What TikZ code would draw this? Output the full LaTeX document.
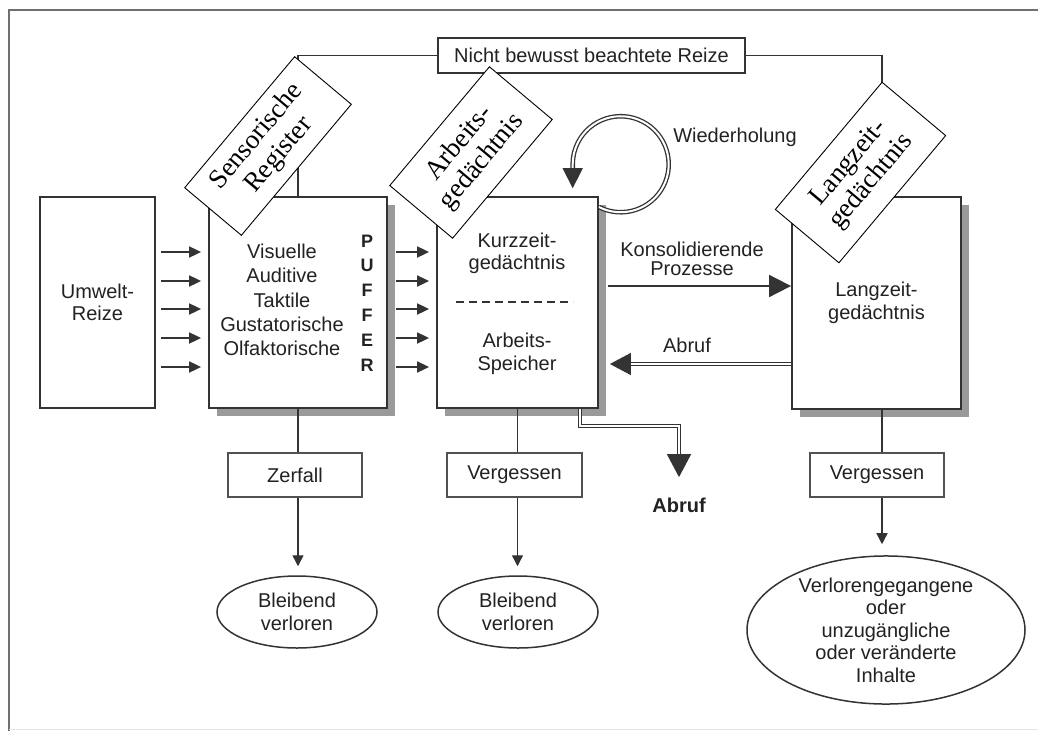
\documentclass[tikz,border=0pt]{standalone}
\usepackage{fontspec}
\setmainfont{Liberation Sans}
\newfontfamily\schildschrift{Liberation Serif}
\usetikzlibrary{arrows.meta,shadows,shapes.geometric}

\definecolor{linie}{HTML}{333333}
\definecolor{schrift}{HTML}{222222}
\definecolor{grauschatten}{HTML}{9A9A9A}
\definecolor{rahmen}{HTML}{707070}

\newcommand\grundschrift{\fontsize{20}{22.5}\selectfont}

\tikzset{
	speicher/.style={draw=linie, line width=1.8pt, fill=white, inner sep=0pt, align=center, text=schrift, font=\grundschrift},
	schattig/.style={drop shadow={shadow xshift=8pt, shadow yshift=-8pt, fill=grauschatten, opacity=1}},
	kasten/.style={draw=linie!85, line width=1.1pt, fill=white, inner sep=0pt, minimum width=134pt, minimum height=44pt, text=schrift, font=\grundschrift},
	oval/.style={ellipse, draw=linie, line width=1.5pt, inner sep=0pt, align=center, text=schrift, font=\grundschrift},
	schild/.style={draw=black, line width=0.9pt, fill=white, rotate=50, inner sep=0pt, align=center, font=\schildschrift\fontsize{27}{29}\selectfont},
	beschriftung/.style={align=center, text=schrift, font=\grundschrift},
	duenn/.style={draw=linie, line width=1.4pt},
	kleinpfeil/.style={duenn, -{Triangle[length=11pt,width=11pt]}},
	pfeil/.style={draw=linie, line width=1.8pt, -{Triangle[length=12pt,width=11pt]}},
	doppel/.style={draw=linie, double=white, double distance=2pt, line width=1.3pt},
}

\begin{document}
\begin{tikzpicture}[x=1pt, y=-1pt]
	\useasboundingbox (0,0) rectangle (1038,731);
	
	% Rahmen
	\draw[rahmen, line width=2.5pt] (9,731) -- (9,10) -- (1038,10);
	\draw[gray!20, line width=1pt] (9,729.5) -- (1038,729.5);
	
	% Speicher
	\node[speicher, minimum width=115pt, minimum height=211pt] (umwelt) at (97.5,302.5) {Umwelt-\\Reize};
	\node[speicher, schattig, minimum width=178pt, minimum height=211pt] (sensor) at (298,302.5) {};
	\node[speicher, schattig, minimum width=161pt, minimum height=211pt] (kurz) at (517.5,302.5) {};
	\node[speicher, schattig, minimum width=169pt, minimum height=212pt] (lang) at (876.5,303) {Langzeit-\\gedächtnis};
	\coordinate (langachse) at ([xshift=5.5pt]lang.south);
	
	% Inhalte der Speicher
	\node[beschriftung, font=\fontsize{20}{24.25}\selectfont] (sinne) at (282,300) {Visuelle\\Auditive\\Taktile\\Gustatorische\\Olfaktorische};
	\node[beschriftung, font=\bfseries\fontsize{18}{24.8}\selectfont] (puffer) at (367,303) {P\\U\\F\\F\\E\\R};
	\node[beschriftung] (kurzzeit) at (517,253.5) {Kurzzeit-\\gedächtnis};
	\node[beschriftung] (arbeitsspeicher) at (517,354) {Arbeits-\\Speicher};
	\draw[linie, line width=1.5pt, dash pattern=on 8pt off 5pt] (456,302) -- (573,302);
	
	% nicht bewusst beachtete Reize
	\node[speicher, line width=1.5pt, minimum width=307pt, minimum height=35pt] (nicht) at (591.5,55.5) {Nicht bewusst beachtete Reize};
	\draw[duenn] (nicht.west) -| (sensor.north);
	\draw[duenn] (nicht.east) -| ([xshift=5.5pt]lang.north);
	
	% Schilder
	\node[schild, minimum width=171pt, minimum height=74pt] (sensorschild) at (268,146) {Sensorische\\Register};
	\node[schild, minimum width=155pt, minimum height=82pt] (arbeitsschild) at (471,152.5) {Arbeits-\\gedächtnis};
	\node[schild, minimum width=166pt, minimum height=83pt] (langschild) at (860.5,172.5) {Langzeit-\\gedächtnis};
	
	% Reize
	\foreach \y in {252,281,309,338,367} {
		\draw[pfeil, shorten <=5pt, shorten >=7pt] (umwelt.east |- 0,\y) -- (sensor.west |- 0,\y);
		\draw[pfeil, shorten <=8pt, shorten >=7pt] (sensor.east |- 0,\y) -- (kurz.west |- 0,\y);
	}
	
	% Konsolidierung und Abruf
	\node[beschriftung, font=\fontsize{20}{19.5}\selectfont] (konsol) at (692,259) {Konsolidierende\\Prozesse};
	\draw[draw=linie, line width=1.8pt, -{Triangle[length=22pt,width=22pt]}, shorten <=9pt] (kurz.east |- 0,286) -- (lang.west |- 0,286);
	\node[beschriftung] (abrufzurueck) at (687,345) {Abruf};
	\draw[doppel, -{Triangle[length=21pt,width=22pt]}, shorten >=11pt] (lang.west |- 0,364) -- (kurz.east |- 0,364);
	\node[beschriftung, font=\bfseries\grundschrift] (abrufunten) at (679,505) {Abruf};
	\draw[doppel, -{Triangle[length=23pt,width=24pt]}, shorten >=17pt] ([xshift=62.5pt]kurz.south) -- ++(0,17) -| (abrufunten.north);
	
	% Wiederholung
	\node[beschriftung] (wiederholung) at (735,137) {Wiederholung};
	\draw[doppel, -{Triangle[length=20pt,width=20pt]}] (kurz.east |- 0,207) arc[start angle=117, end angle=-180, radius=48] -- ++(0,24);
	
	% Vergessen
	\node[kasten] (zerfall) at (295,475) {Zerfall};
	\node[kasten, minimum width=135pt] (vergessena) at (514.5,475) {Vergessen};
	\node[kasten] (vergessenb) at (877,475) {Vergessen};
	\node[oval, minimum width=160pt, minimum height=72pt] (bleibenda) at (297,612) {Bleibend\\verloren};
	\node[oval, minimum width=160pt, minimum height=72pt] (bleibendb) at (518,612) {Bleibend\\verloren};
	\node[oval, minimum width=278pt, minimum height=143pt] (verloren) at (886,630) {Verlorengegangene\\oder\\unzugängliche\\oder veränderte\\Inhalte};
	
	\draw[duenn] (sensor.south) -- (sensor.south |- zerfall.north);
	\draw[kleinpfeil, shorten >=9pt] (zerfall.south -| sensor.south) -- (bleibenda.north -| sensor.south);
	\draw[duenn] (kurz.south) -- (kurz.south |- vergessena.north);
	\draw[kleinpfeil, shorten >=9pt] (vergessena.south -| kurz.south) -- (bleibendb.north -| kurz.south);
	\draw[duenn] (langachse) -- (langachse |- vergessenb.north);
	\draw[kleinpfeil, shorten >=11pt] (vergessenb.south -| langachse) -- (verloren.north -| langachse);
	
\end{tikzpicture}
\end{document}
